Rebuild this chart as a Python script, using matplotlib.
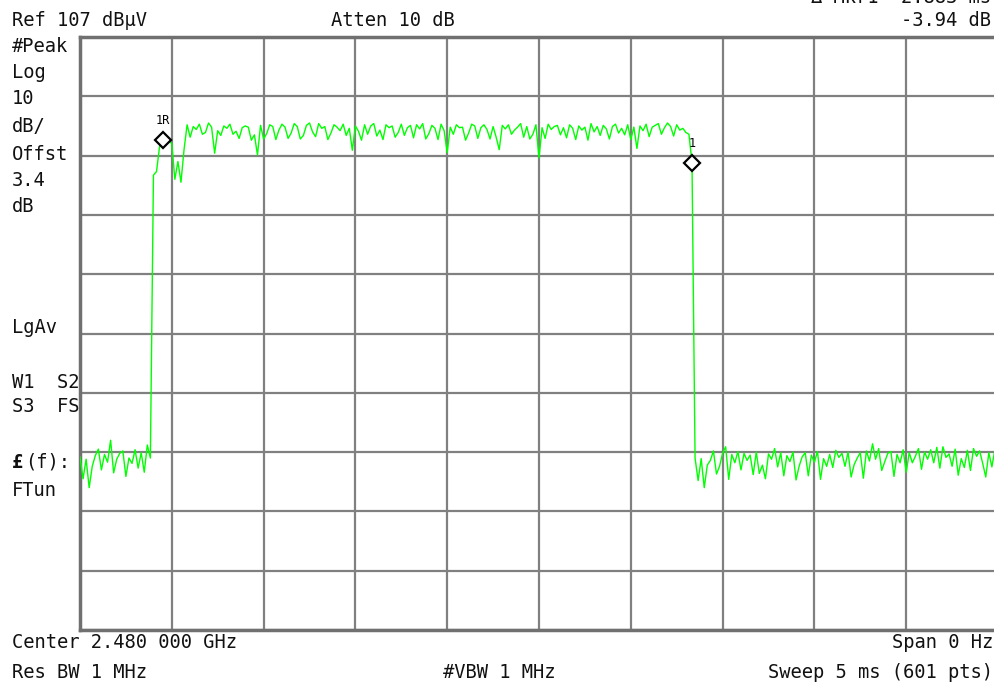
import matplotlib
matplotlib.use("Agg")
import matplotlib.pyplot as plt
import numpy as np

# sweep: 5 ms, trace every 2nd point
sweep_ms = 5.0
low_start = [36.2, 32.5, 35.8, 31.0, 34.6, 36.4, 37.5, 34.0, 36.6, 35.3, 39.0, 33.5,
             35.8, 36.8, 37.2, 32.9, 36.0, 35.1, 37.4, 34.3, 36.9, 33.6, 38.2, 36.0]
rise = [83.7, 84.3, 88.5, 89.7, 89.3, 89.6, 89.0, 83.0, 86.0, 82.5, 88.0]
plateau = [
    92.2, 90.1, 91.9, 91.4, 92.3, 90.6, 90.9, 92.5, 91.8, 87.4, 91.2, 90.4, 92.0, 91.6, 92.3,
    90.6, 91.1, 89.9, 91.7, 92.0, 91.8, 89.6, 90.5, 87.1, 92.1, 89.8, 90.7, 92.2, 91.9, 89.7,
    91.3, 92.3, 91.8, 89.9, 90.8, 92.4, 91.9, 89.8, 90.4, 92.1, 92.5, 91.0, 90.2, 92.4, 91.6,
    91.9, 89.7, 90.8, 92.2, 91.8, 91.2, 92.3, 90.4, 91.6, 87.9, 92.0, 91.1, 89.6, 92.2, 90.6,
    92.0, 92.4, 90.3, 91.3, 89.7, 92.2, 91.7, 92.0, 90.1, 90.9, 92.3, 90.4, 91.7, 92.1, 90.0,
    92.2, 91.5, 92.4, 89.8, 90.7, 92.1, 91.6, 89.7, 92.3, 91.2, 87.5, 91.8, 90.6, 92.2, 91.7,
    91.8, 89.6, 90.8, 92.3, 92.0, 89.9, 91.7, 92.2, 91.4, 89.8, 91.9, 90.1, 88.0, 92.1, 91.5,
    92.2, 90.6, 91.3, 91.8, 92.4, 90.1, 91.9, 89.8, 90.6, 92.2, 86.6, 91.7, 89.9, 92.3, 91.4,
    91.9, 92.1, 90.5, 91.7, 90.0, 92.2, 91.6, 89.7, 92.0, 91.3, 91.8, 89.6, 92.4, 91.0, 91.9,
    90.4, 92.1, 91.5, 89.8, 91.9, 92.3, 90.8, 91.6, 90.5, 92.2, 89.7, 91.8, 88.2, 92.0, 91.2,
    92.3, 90.2, 91.8, 92.1, 92.4, 90.6, 91.7, 92.5, 91.9, 90.3, 92.2, 91.3, 91.6, 90.9, 90.6,
]
fall = [85.8]
low_end = [
    36.0, 32.2, 35.9, 31.0, 34.8, 35.6, 37.2, 33.3, 34.6, 36.8, 37.9, 32.4, 36.6, 35.2, 37.1,
    34.0, 36.8, 35.6, 36.5, 33.2, 37.0, 33.4, 34.8, 32.5, 36.7, 35.8, 37.6, 34.5, 36.9, 33.0,
    36.4, 35.4, 37.0, 32.3, 34.6, 36.2, 36.9, 33.0, 36.5, 35.3, 37.1, 32.4, 35.9, 34.6, 36.6,
    34.4, 37.3, 36.1, 36.8, 34.6, 37.0, 32.8, 34.9, 36.0, 36.9, 32.6, 37.2, 35.5, 38.4, 35.8,
    37.6, 33.9, 35.4, 36.8, 37.1, 32.9, 36.6, 35.2, 37.4, 33.6, 36.9, 35.2, 36.3, 37.6, 34.1,
    37.0, 35.8, 37.4, 35.2, 37.8, 34.3, 37.9, 36.1, 36.7, 34.6, 37.5, 33.1, 35.9, 34.4, 37.3,
    33.9, 37.6, 36.3, 37.2, 35.1, 32.8, 36.9, 34.5, 37.5, 34.8,
]
level = np.array(low_start + rise + plateau + fall + low_end)
t = np.linspace(0, sweep_ms, len(level))

mkr_idx = [27, 200]
mkr_labels = ["1R", "1"]

ref_level = 107
db_div = 10

fig = plt.figure(figsize=(9.94, 6.89), dpi=100)
W, H = 994, 689
ax = fig.add_axes([80 / W, 1 - 630 / H, 918 / W, 593 / H])
ax.set_xlim(0, sweep_ms)
ax.set_ylim(ref_level - 10 * db_div, ref_level)
ax.set_xticks(np.linspace(0, sweep_ms, 11))
ax.set_yticks(np.arange(ref_level - 10 * db_div, ref_level + 1, db_div))
ax.grid(True, color="#808080", lw=1.6)
ax.tick_params(length=0, labelbottom=False, labelleft=False)
for s in ax.spines.values():
    s.set_color("#707070")
    s.set_linewidth(2.5)

ax.plot(t, level, color="#00ff00", lw=1.0, zorder=3)

for i, lab in zip(mkr_idx, mkr_labels):
    ax.plot(t[i], level[i], marker="D", ms=8.5, mfc="white", mec="black", mew=1.6, zorder=4)
    ax.annotate(lab, (t[i], level[i]), xytext=(0, 9), textcoords="offset points",
                ha="center", va="bottom", fontsize=8.5, family="DejaVu Sans Mono")

fkw = dict(family="DejaVu Sans Mono", fontsize=13.5, color="#111111")


def px(x, y, s, ha="left", **kw):
    fig.text(x / W, 1 - y / H, s, ha=ha, va="center", **{**fkw, **kw})


px(12, 20, "Ref 107 dBµV")
px(331, 20, "Atten 10 dB")
px(991, 20, "-3.94 dB", ha="right")
px(991, -3, "Δ Mkr1  2.883 ms", ha="right")

side = [("#Peak", 47), ("Log", 73), ("10", 98), ("dB/", 126), ("Offst", 155),
        ("3.4", 181), ("dB", 206), ("LgAv", 327), ("W1  S2", 382), ("S3  FS", 407),
        ("FTun", 490)]
for s, y in side:
    px(12, y, s)
px(12, 462, "£", weight="bold")
px(25, 462, "(f):")

px(12, 642, "Center 2.480 000 GHz")
px(993, 642, "Span 0 Hz", ha="right")
px(12, 673, "Res BW 1 MHz")
px(443, 673, "#VBW 1 MHz")
px(993, 673, "Sweep 5 ms (601 pts)", ha="right")

fig.savefig("out.png", dpi=100)
